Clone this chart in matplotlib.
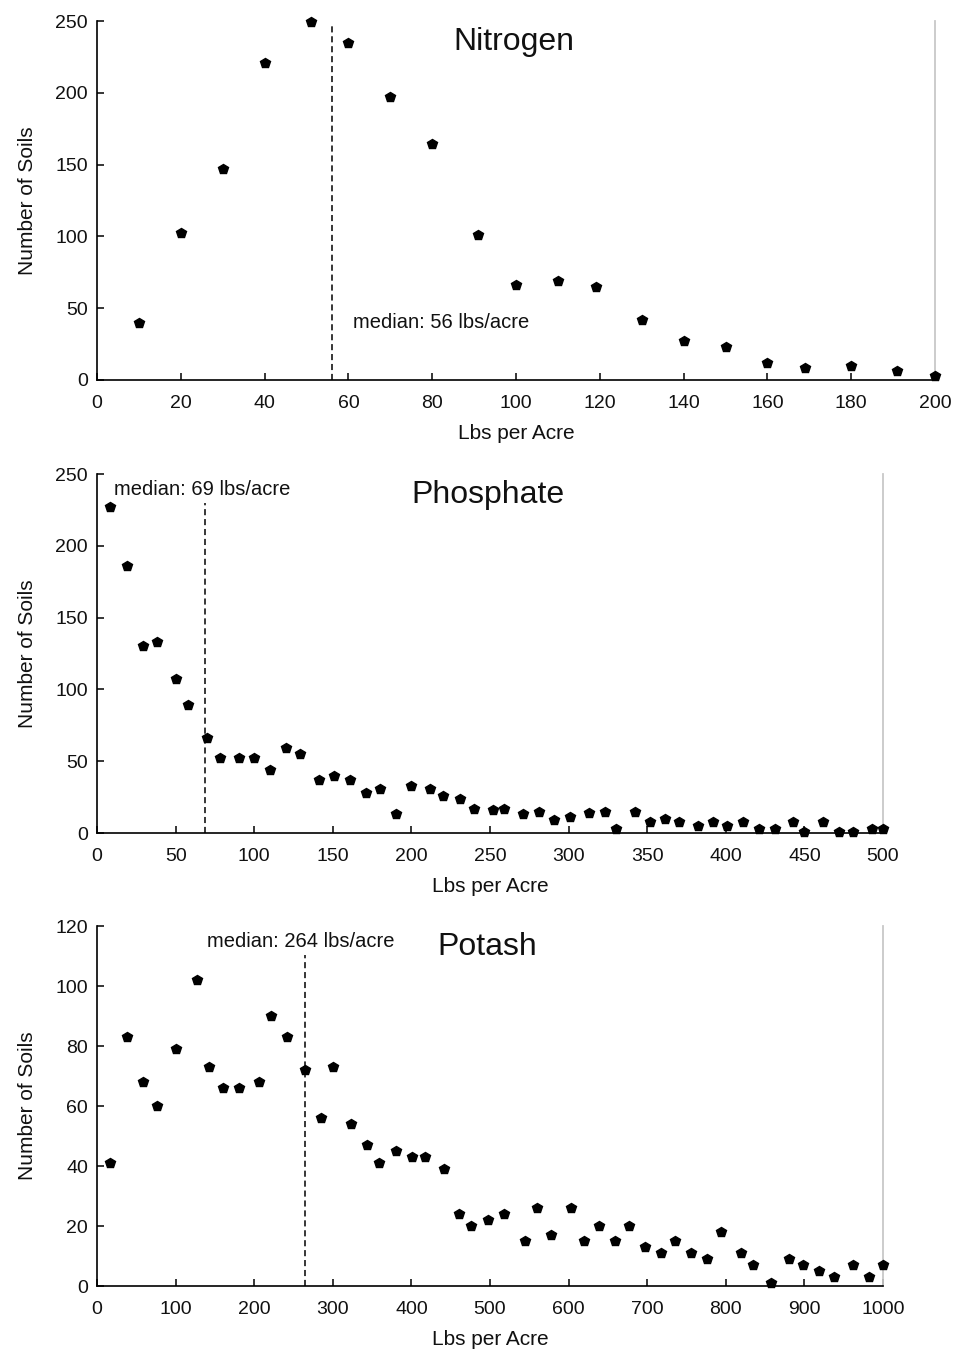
import matplotlib
matplotlib.use('Agg')  # no GUI window
import matplotlib.pyplot as plt

plt.rcParams['font.family'] = ['Liberation Sans', 'DejaVu Sans']

# Nitrogen
n_x = [10, 20, 30, 40, 51, 60, 70, 80, 91, 100, 110, 119, 130, 140, 150, 160, 169, 180, 191, 200]
n_y = [40, 102, 147, 221, 249, 235, 197, 164, 101, 66, 69, 65, 42, 27, 23, 12, 8, 10, 6, 3]
n_median = 56

# Phosphate
p_x = [8, 19, 29, 38, 50, 58, 70, 78, 90, 100, 110, 120, 129, 141, 151, 161, 171, 180, 190, 200,
       212, 220, 231, 240, 252, 259, 271, 281, 291, 301, 313, 323, 330, 342, 352, 361, 370, 382,
       392, 401, 411, 421, 431, 443, 450, 462, 472, 481, 493, 500]
p_y = [227, 186, 130, 133, 107, 89, 66, 52, 52, 52, 44, 59, 55, 37, 40, 37, 28, 31, 13, 33,
       31, 26, 24, 17, 16, 17, 13, 15, 9, 11, 14, 15, 3, 15, 8, 9.5, 8, 5,
       8, 5, 8, 3, 3, 8, 1, 8, 1, 1, 3, 3]
p_median = 69

# Potash
k_x = [17, 38, 58, 76, 101, 127, 142, 160, 181, 206, 221, 242, 265, 285, 300, 323, 343, 359,
       381, 401, 417, 441, 460, 476, 498, 518, 545, 560, 577, 603, 619, 639, 659, 677, 697,
       718, 735, 756, 776, 794, 819, 835, 858, 881, 898, 919, 937, 962, 982, 1000]
k_y = [41, 83, 68, 60, 79, 102, 73, 66, 66, 68, 90, 83, 72, 56, 73, 54, 47, 41,
       45, 43, 43, 39, 24, 20, 22, 24, 15, 26, 17, 26, 15, 20, 15, 20, 13,
       11, 15, 11, 9, 18, 11, 7, 1, 9, 7, 5, 3, 7, 3, 7]
k_median = 264

panels = [
    # name, x, y, median, xmax, xstep, ymax, ystep, median line top (fraction), median text pos, rect
    ("Nitrogen", n_x, n_y, n_median, 200, 20, 250, 50, 0.988, (61, 40), [0.1017, 0.7196, 0.8784, 0.2649]),
    ("Phosphate", p_x, p_y, p_median, 500, 50, 250, 50, 0.92, (11, 239), [0.1017, 0.3852, 0.8239, 0.2649]),
    ("Potash", k_x, k_y, k_median, 1000, 100, 120, 20, 0.92, (140, 115), [0.1017, 0.0509, 0.8239, 0.2657]),
]

fig = plt.figure(figsize=(9.54, 13.55), dpi=100)

for name, xs, ys, med, xmax, xstep, ymax, ystep, top, (tx, ty), rect in panels:
    ax = fig.add_axes(rect)
    ax.plot(xs, ys, linestyle='none', marker='p', markersize=7.3, color='black', clip_on=False, zorder=3)

    # dashed median line
    ax.plot([med, med], [0, ymax * top], color='black', linewidth=1.1,
            linestyle=(0, (4, 2.5)))
    ax.text(tx, ty, f"median: {med} lbs/acre", fontsize=14.5, ha='left', va='center', color='#111111')
    ax.text(0.497, 0.942, name, transform=ax.transAxes, fontsize=23, ha='center', va='center',
            color='#111111')

    ax.set_xlim(0, xmax)
    ax.set_ylim(0, ymax)
    ax.set_xticks(range(0, xmax + 1, xstep))
    ax.set_yticks(range(0, ymax + 1, ystep))

    ax.spines['top'].set_visible(False)
    ax.spines['right'].set_color('#c8c8c8')
    ax.spines['right'].set_linewidth(1.3)
    ax.spines['left'].set_linewidth(1.2)
    ax.spines['bottom'].set_linewidth(1.2)
    ax.tick_params(axis='both', direction='in', length=5, width=1.1, labelsize=14, colors='black',
                   labelcolor='#111111')
    ax.tick_params(axis='x', pad=11)
    ax.tick_params(axis='y', pad=6.5)

    ax.set_xlabel("Lbs per Acre", fontsize=15, color='#111111')
    ax.set_ylabel("Number of Soils", fontsize=15, color='#111111')
    width_px = rect[2] * 954
    ax.xaxis.set_label_coords(0.5, -0.1226)
    ax.yaxis.set_label_coords((36.5 - 97) / width_px, 0.5)

fig.savefig('out.png', dpi=100)
plt.close(fig)
